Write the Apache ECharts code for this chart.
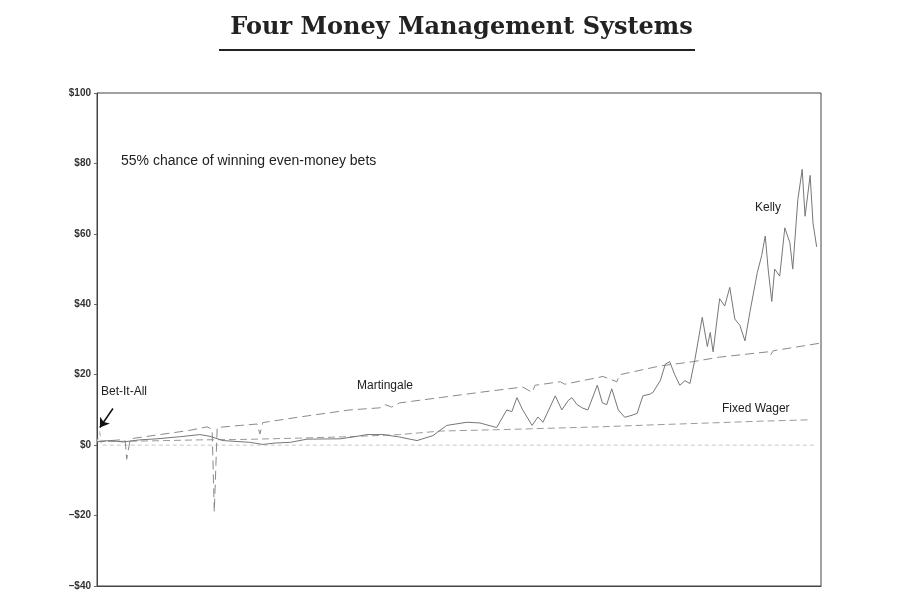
<!DOCTYPE html>
<html>
<head>
<meta charset="utf-8">
<script src="https://cdn.jsdelivr.net/npm/echarts@6/dist/echarts.min.js"></script>
<style>
  html, body { margin: 0; padding: 0; background: #fff; }
  #main { width: 923px; height: 603px; }
</style>
</head>
<body>
<div id="main"></div>
<script>
// bet number (0..1000) and bankroll in dollars
const kellyX = [0, 18, 36, 59, 83, 115, 142, 156, 174, 211, 229, 246, 267, 290, 336, 359, 373, 395, 418, 442,
  464, 483, 511, 529, 543, 552, 566, 573, 580, 588, 601, 609, 616, 633, 642, 651, 656, 663, 671, 678,
  691, 698, 704, 711, 720, 729, 739, 746, 754, 764, 768, 778, 785, 791, 798, 805, 812, 819, 826, 836,
  843, 847, 851, 856, 860, 867, 874, 881, 888, 895, 902, 912, 918, 923, 927, 932, 936, 943, 950, 957,
  961, 968, 974, 978, 985, 989, 994];
const kellyY = [1.0, 1.3, 0.9, 1.5, 1.8, 2.4, 3.0, 2.5, 1.3, 0.8, 0.2, 0.6, 0.8, 1.7, 1.8, 2.5, 3.0, 3.0, 2.3, 1.3,
  2.7, 5.6, 6.5, 6.3, 5.5, 5.0, 10, 9.5, 13.5, 10, 5.6, 8, 6.5, 14, 10, 12.7, 13.5, 11.5, 10.5, 10,
  17, 12, 11.5, 16, 10, 7.9, 8.5, 9, 14, 14.5, 15, 18.3, 23, 23.7, 20, 17, 18.3, 17.5, 24.5, 36.3,
  28, 32, 26.5, 35, 41.6, 39.5, 44.8, 35.8, 34, 29.6, 38, 49, 53.8, 59.4, 50, 40.8, 50, 48, 61.7, 57.5,
  50, 69.7, 78.3, 65, 76.6, 63, 56.3];

const martX = [0, 32, 39, 41, 46, 87, 128, 152, 159, 162, 166, 198, 221, 225, 229, 280, 349, 391, 398, 407,
  418, 474, 529, 588, 601, 605, 640, 646, 699, 718, 722, 778, 823, 860, 927, 930, 934, 1000];
const martY = [1.0, 1.5, 1.2, -4, 1.8, 3.0, 4.2, 5.2, 4.5, -19, 5.0, 5.6, 6.0, 3.2, 6.4, 8.0, 10, 10.6, 11.5, 10.8,
  12, 13.5, 15, 16.5, 15, 17, 18, 17.3, 19.5, 18, 20, 22.5, 23.7, 25, 26.5, 25.5, 26.8, 29];

const fixedX = [0, 73, 142, 198, 280, 349, 418, 474, 557, 626, 695, 773, 833, 916, 985];
const fixedY = [1.0, 1.2, 1.5, 1.6, 2.0, 2.4, 3.0, 4.0, 4.4, 4.8, 5.2, 5.8, 6.2, 6.8, 7.2];

const betAllX = [0, 2, 4, 6, 990];
const betAllY = [1, 2, 4.2, 0, 0];

const yTicks = [-40, -20, 0, 20, 40, 60, 80, 100];

function pairs(xs, ys) {
  return xs.map((x, i) => [x, ys[i]]);
}

function moneyLabel(v) {
  return v < 0 ? '\u2013$' + Math.abs(v) : '$' + v;
}

const chart = echarts.init(document.getElementById('main'));
const labelFont = '"Liberation Sans", Arial, sans-serif';

chart.setOption({
  backgroundColor: '#fff',
  animation: false,
  grid: { left: 97, right: 102, top: 93, bottom: 17, show: true, borderColor: '#444', borderWidth: 1 },
  xAxis: {
    type: 'value', min: 0, max: 1000,
    axisLine: { show: true, onZero: false, lineStyle: { color: '#444' } },
    axisTick: { show: false }, axisLabel: { show: false }, splitLine: { show: false }
  },
  yAxis: {
    type: 'value', min: yTicks[0], max: yTicks[yTicks.length - 1], interval: 20,
    axisLine: { show: true, lineStyle: { color: '#444' } },
    axisTick: { show: true, length: 3, lineStyle: { color: '#666' } },
    axisLabel: { formatter: moneyLabel, fontFamily: labelFont, fontSize: 10, fontWeight: 'bold', color: '#333', margin: 6 },
    splitLine: { show: false }
  },
  series: [
    {
      name: 'Bet-It-All', type: 'line', data: pairs(betAllX, betAllY), showSymbol: false,
      lineStyle: { color: '#c8c8c8', width: 1, type: [4, 3] },
      markLine: {
        silent: true, symbol: ['none', 'arrow'], symbolSize: 9,
        lineStyle: { color: '#111', width: 1.5, type: 'solid' }, label: { show: false },
        data: [[{ coord: [22, 10.4] }, { coord: [4, 5] }]]
      }
    },
    {
      name: 'Fixed Wager', type: 'line', data: pairs(fixedX, fixedY), showSymbol: false,
      lineStyle: { color: '#9a9a9a', width: 1, type: [7, 4] }
    },
    {
      name: 'Martingale', type: 'line', data: pairs(martX, martY), showSymbol: false,
      lineStyle: { color: '#8a8a8a', width: 1, type: [9, 5] }
    },
    {
      name: 'Kelly', type: 'line', data: pairs(kellyX, kellyY), showSymbol: false,
      lineStyle: { color: '#777', width: 1 }
    }
  ],
  graphic: [
    { type: 'text', left: 'center', top: 16,
      style: { text: 'Four Money Management Systems', font: 'bold 24px "DejaVu Serif", serif', fill: '#222' } },
    { type: 'line', shape: { x1: 219, y1: 50, x2: 695, y2: 50 }, style: { stroke: '#222', lineWidth: 2 } },
    { type: 'text', left: 121, top: 154,
      style: { text: '55% chance of winning even-money bets', font: '14px ' + labelFont, fill: '#222' } },
    { type: 'text', left: 755, top: 202, style: { text: 'Kelly', font: '12px ' + labelFont, fill: '#222' } },
    { type: 'text', left: 357, top: 380, style: { text: 'Martingale', font: '12px ' + labelFont, fill: '#222' } },
    { type: 'text', left: 722, top: 403, style: { text: 'Fixed Wager', font: '12px ' + labelFont, fill: '#222' } },
    { type: 'text', left: 101, top: 386, style: { text: 'Bet-It-All', font: '12px ' + labelFont, fill: '#222' } }
  ]
});
</script>
</body>
</html>
